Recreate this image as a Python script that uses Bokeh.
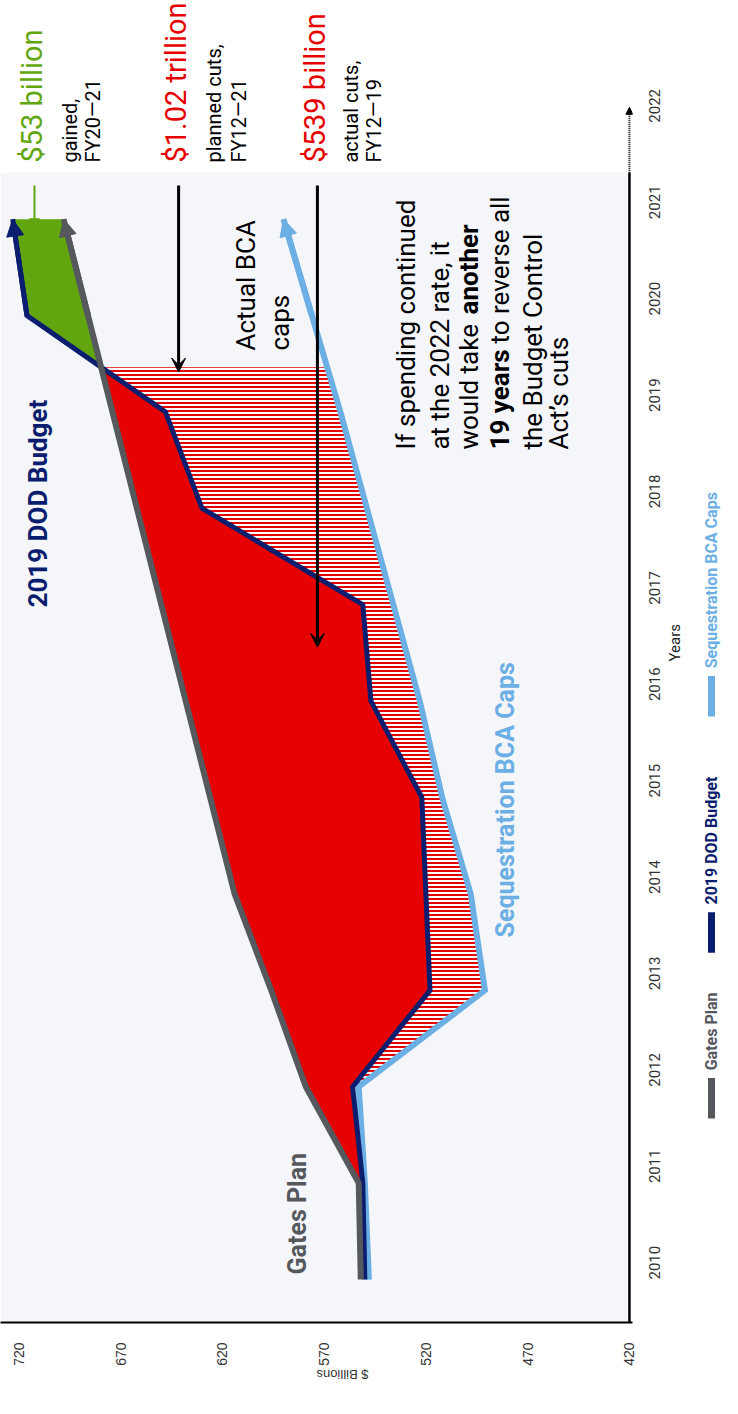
import math
import numpy as np
from bokeh.plotting import figure
from bokeh.models import Range1d, FixedTicker, Arrow, NormalHead, VeeHead
from bokeh.layouts import row
from bokeh.embed import file_html
from bokeh.resources import INLINE
from bokeh.core.properties import value

# ---------------- data ----------------
YEARS = [2010, 2011, 2012, 2013, 2014, 2015, 2016, 2017, 2018, 2019, 2020, 2021]
GATES_PLAN = [552, 553, 579, 596, 614, 626, 638, 650, 662, 674, 686, 698]
DOD_BUDGET_2019 = [550, 551, 556, 518, 520, 522, 547, 551, 630, 648, 716, 723]
SEQUESTRATION_CAPS = [548, 550, 553, 491, 498, 512, 523, 536, 549, 562, 576, 590]
YEAR_TICKS = [2010, 2011, 2012, 2013, 2014, 2015, 2016, 2017, 2018, 2019, 2020, 2021, 2022]
VALUE_TICKS = [420, 470, 520, 570, 620, 670, 720]

# ---------------- styling / layout constants ----------------
X_START, X_END = 729, 418.5          # value axis (reversed, horizontal)
Y_START, Y_END = 2009.554, 2023.268  # year axis (vertical)
BG_TOP = 2021.48                     # top of the shaded plot area
AXIS_ARROW_TOP = 2022.16
FIG_H = 1398
BOTTOM_BORDER = 76

RED = "#e60000"
GREEN = "#62a60f"
NAVY = "#0b1d6e"
GRAY = "#55585d"
LIGHT_BLUE = "#6cafe5"
BG = "#f4f6fa"

p = figure(width=700, height=FIG_H,
           x_range=Range1d(X_START, X_END), y_range=Range1d(Y_START, Y_END),
           y_axis_location="right", x_axis_location="below",
           output_backend="svg", toolbar_location=None,
           min_border_left=0, min_border_top=0, min_border_right=68, min_border_bottom=BOTTOM_BORDER,
           background_fill_color="white", border_fill_color="white",
           outline_line_color=None)
p.xgrid.visible = False
p.ygrid.visible = False

# value axis (bottom)
xa = p.xaxis[0]
xa.ticker = FixedTicker(ticks=VALUE_TICKS)
xa.major_label_orientation = math.pi / 2
xa.major_tick_line_color = None
xa.minor_tick_line_color = None
xa.major_tick_out = 0
xa.major_tick_in = 0
xa.axis_line_color = "black"
xa.axis_line_width = 2
xa.major_label_text_font = "Liberation Sans"
xa.major_label_text_font_size = "14px"
xa.major_label_text_color = "#333333"
xa.major_label_standoff = 20
xa.axis_label = "$ Billions"
xa.axis_label_orientation = math.pi
xa.axis_label_text_font = "Liberation Sans"
xa.axis_label_text_font_size = "13px"
xa.axis_label_text_font_style = "normal"
xa.axis_label_text_color = "#333333"
xa.axis_label_standoff = 6

# year axis (right)
ya = p.yaxis[0]
ya.ticker = FixedTicker(ticks=YEAR_TICKS)
ya.major_label_orientation = math.pi / 2
ya.major_tick_line_color = None
ya.minor_tick_line_color = None
ya.major_tick_out = 0
ya.major_tick_in = 0
ya.axis_line_color = None
ya.major_label_text_font = "Roboto"
ya.major_label_text_font_size = "15px"
ya.major_label_text_color = "#333333"
ya.major_label_standoff = 22
ya.axis_label = "Years"
ya.axis_label_orientation = math.pi / 2
ya.axis_label_text_font = "Roboto"
ya.axis_label_text_font_size = "15px"
ya.axis_label_text_font_style = "normal"
ya.axis_label_text_color = "#222222"
ya.axis_label_standoff = 6

# shaded plotting area
p.quad(left=[X_START], right=[VALUE_TICKS[0]], bottom=[Y_START], top=[BG_TOP],
       fill_color=BG, line_color=None)

# ---------------- derived areas ----------------
yrs = np.array(YEARS, dtype=float)
g = np.array(GATES_PLAN, dtype=float)
d = np.array(DOD_BUDGET_2019, dtype=float)
s = np.array(SEQUESTRATION_CAPS, dtype=float)

diff = g - d
i = int(np.where((diff[:-1] > 0) & (diff[1:] <= 0))[0][-1])
t = diff[i] / (diff[i] - diff[i + 1])
cross_yr = yrs[i] + t
cross_val = g[i] + t * (g[i + 1] - g[i])
seq_at_cross = float(np.interp(cross_yr, yrs, s))

# red: planned cuts (Gates plan above DOD budget)
red_x = list(g[1:i + 1]) + [cross_val] + list(d[1:i + 1][::-1])
red_y = list(yrs[1:i + 1]) + [cross_yr] + list(yrs[1:i + 1][::-1])
p.patch(red_x, red_y, fill_color=RED, line_color=None)

# hatched: actual cuts (DOD budget above sequestration caps)
h_x = list(d[2:i + 1]) + [cross_val, seq_at_cross] + list(s[2:i + 1][::-1])
h_y = list(yrs[2:i + 1]) + [cross_yr, cross_yr] + list(yrs[2:i + 1][::-1])
p.patch(h_x, h_y, fill_color="white", line_color=None,
        hatch_pattern="horizontal_line", hatch_color=RED, hatch_scale=4, hatch_weight=2)

# green: gained
gr_x = [cross_val] + list(d[i + 1:]) + list(g[i + 1:][::-1])
gr_y = [cross_yr] + list(yrs[i + 1:]) + list(yrs[i + 1:][::-1])
p.patch(gr_x, gr_y, fill_color=GREEN, line_color=None)

# ---------------- lines ----------------
for vals, col, w in [(SEQUESTRATION_CAPS, LIGHT_BLUE, 6), (DOD_BUDGET_2019, NAVY, 5), (GATES_PLAN, GRAY, 6)]:
    p.line(vals, YEARS, line_color=col, line_width=w, line_join="miter")
    p.add_layout(Arrow(end=NormalHead(size=17, fill_color=col, line_color=col),
                       x_start=vals[-2], y_start=YEARS[-2], x_end=vals[-1], y_end=YEARS[-1],
                       line_color=col, line_width=w))

# year axis line: solid over the shaded area, dotted beyond
p.line([VALUE_TICKS[0], VALUE_TICKS[0]], [Y_START, BG_TOP], line_color="black", line_width=2.5)
p.add_layout(Arrow(end=NormalHead(size=7, fill_color="black", line_color="black"),
                   x_start=VALUE_TICKS[0], y_start=BG_TOP, x_end=VALUE_TICKS[0], y_end=AXIS_ARROW_TOP,
                   line_color="black", line_width=2, line_dash="1 1"))

# ---------------- text ----------------
def txt(fig, x, y, text, color, size, bold=False, font="Roboto", y_offset=0):
    fig.text(x=[x], y=[y], text=[text], angle=math.pi / 2, text_align="left",
             text_baseline="middle", text_font=value(font), text_font_size=size,
             text_font_style="bold" if bold else "normal", text_color=color, y_offset=y_offset)

TOP_TXT = 2021.587
txt(p, 713.3, TOP_TXT, "$53 billion", GREEN, "29px")
txt(p, 695.1, TOP_TXT, "gained,", "black", "20px")
txt(p, 683.8, TOP_TXT, "FY20\u201421", "black", "20px")
txt(p, 643.0, TOP_TXT, "$1.02 trillion", RED, "29px")
txt(p, 623.9, TOP_TXT, "planned cuts,", "black", "20px")
txt(p, 611.6, TOP_TXT, "FY12\u201421", "black", "20px")
txt(p, 574.7, TOP_TXT, "$539 billion", RED, "29px")
txt(p, 557.0, TOP_TXT, "actual cuts,", "black", "20px")
txt(p, 545.3, TOP_TXT, "FY12\u201419", "black", "20px")

txt(p, 608.6, 2019.637, "Actual BCA", "black", "26px")
txt(p, 591.9, 2019.637, "caps", "black", "26px")

PAR_Y = 2018.61
txt(p, 530.0, PAR_Y, "If spending continued", "black", "26px")
txt(p, 513.3, PAR_Y, "at the 2022 rate, it", "black", "26px")
txt(p, 498.6, PAR_Y, "would take", "black", "26px")
txt(p, 498.6, PAR_Y, "another", "black", "26px", bold=True, y_offset=-135)
txt(p, 483.4, PAR_Y, "19 years", "black", "26px", bold=True)
txt(p, 483.4, PAR_Y, "to reverse all", "black", "26px", y_offset=-106)
txt(p, 467.6, PAR_Y, "the Budget Control", "black", "26px")
txt(p, 454.4, PAR_Y, "Act\u2019s cuts", "black", "26px")

txt(p, 710.8, 2016.971, "2019 DOD Budget", NAVY, "26px", bold=True)
txt(p, 583.1, 2010.052, "Gates Plan", GRAY, "25px", bold=True)
txt(p, 480.9, 2013.548, "Sequestration BCA Caps", LIGHT_BLUE, "25px", bold=True)

# annotation arrows
p.add_layout(Arrow(end=NormalHead(size=10, fill_color=GREEN, line_color=GREEN),
                   x_start=712.3, y_start=2021.35, x_end=712.3, y_end=2020.9,
                   line_color=GREEN, line_width=2))
p.add_layout(Arrow(end=VeeHead(size=14, fill_color="black", line_color="black"),
                   x_start=641.5, y_start=2021.35, x_end=641.5, y_end=cross_yr - 0.05,
                   line_color="black", line_width=3))
p.add_layout(Arrow(end=VeeHead(size=14, fill_color="black", line_color="black"),
                   x_start=573.3, y_start=2021.35, x_end=573.3, y_end=2016.56,
                   line_color="black", line_width=3))

# ---------------- legend (rotated, separate strip) ----------------
leg = figure(width=22, height=FIG_H, x_range=Range1d(0, 22), y_range=p.y_range,
             output_backend="svg", toolbar_location=None,
             x_axis_location=None, y_axis_location=None,
             min_border_left=0, min_border_right=0, min_border_top=0, min_border_bottom=BOTTOM_BORDER,
             background_fill_color="white", border_fill_color="white", outline_line_color=None)
leg.xgrid.visible = False
leg.ygrid.visible = False
LEGEND_LABELS = ["Gates Plan", "2019 DOD Budget", "Sequestration BCA Caps"]
LEGEND_COLORS = [GRAY, NAVY, LIGHT_BLUE]
LEGEND_POS = [2011.67, 2013.39, 2015.84]
for lab, col, y0 in zip(LEGEND_LABELS, LEGEND_COLORS, LEGEND_POS):
    leg.segment(x0=[11], y0=[y0], x1=[11], y1=[y0 + 0.42], line_color=col, line_width=7)
    txt(leg, 11, y0 + 0.5, lab, col, "16px", bold=True)

layout = row(p, leg)
open("out.html", "w").write(file_html(layout, INLINE))
